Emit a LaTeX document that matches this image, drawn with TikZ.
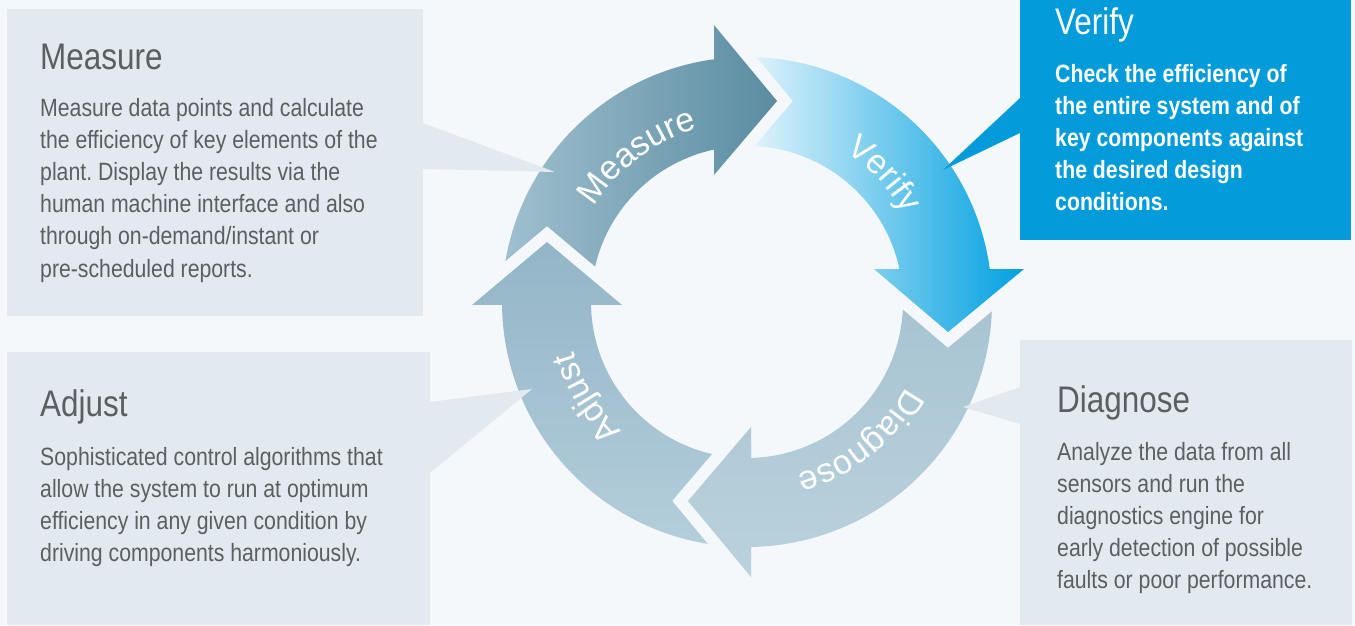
\documentclass[tikz,border=0pt]{standalone}
\usepackage{fontspec}
\setmainfont{Liberation Sans}
\newfontfamily\boxfont[FakeStretch=0.85]{Liberation Sans}
\newfontfamily\ringfont{Liberation Sans}
\usetikzlibrary{decorations.text}
\frenchspacing
\definecolor{bgc}{HTML}{F4F8FA}
\definecolor{boxc}{HTML}{E2EAF0}
\definecolor{txtc}{HTML}{5A5F63}
\definecolor{vblue}{HTML}{039BDA}
\definecolor{mL}{HTML}{A0C0CF}
\definecolor{mR}{HTML}{5A8CA1}
\definecolor{vL}{HTML}{F6FBFE}
\definecolor{vM}{HTML}{8EC7ED}
\definecolor{vR}{HTML}{00A0E0}
\definecolor{dT}{HTML}{A6C2D1}
\definecolor{dB}{HTML}{BAD2DD}
\definecolor{aT}{HTML}{93B5C7}
\definecolor{aB}{HTML}{B4CEDB}
\newcommand\ringtxt{\ringfont\fontsize{34}{40}\selectfont}
\def\pM{(177:245pt) arc[start angle=177,end angle=97.74,radius=245pt] -- (-33,277) -- (30,201) -- (-33,127) -- (102.21:156pt) arc[start angle=102.21,end angle=177,radius=156pt] -- cycle}
\def\pV{(95:245pt) arc[start angle=95,end angle=7.74,radius=245pt] -- (277,33) -- (201,-30) -- (127,33) -- (12.21:156pt) arc[start angle=12.21,end angle=95,radius=156pt] -- cycle}
\def\pD{(5:245pt) arc[start angle=5,end angle=-89.06,radius=245pt] -- (4,-275) -- (-59,-199) -- (4,-125) -- (-88.53:156pt) arc[start angle=-88.53,end angle=5,radius=156pt] -- cycle}
\def\pA{(-93:245pt) arc[start angle=-93,end angle=-179.3,radius=245pt] -- (-275,-3) -- (-200,60) -- (-125,-3) -- (-178.9:156pt) arc[start angle=-178.9,end angle=-93,radius=156pt] -- cycle}
\def\hM{(-33,277) -- (30,201) -- (-33,127)}
\def\hV{(277,33) -- (201,-30) -- (127,33)}
\def\hD{(4,-275) -- (-59,-199) -- (4,-125)}
\def\hA{(-275,-3) -- (-200,60) -- (-125,-3)}
\tikzset{
  lbox/.style={fill=boxc, draw=none, inner sep=0pt, anchor=north west},
  bluebox/.style={fill=vblue, draw=none, inner sep=0pt, anchor=north west},
  ttl/.style={font=\boxfont\fontsize{37}{44}\selectfont, text=txtc, anchor=base west, inner sep=0pt},
  bdy/.style={font=\boxfont\fontsize{25}{32}\selectfont, text=txtc, anchor=base west, inner sep=0pt},
  wttl/.style={ttl, text=white},
  wbdy/.style={bdy, text=white, font=\boxfont\bfseries\fontsize{25}{32}\selectfont},
  gapline/.style={draw=bgc, line width=24pt, line join=miter},
  mshade/.style={left color=mL, right color=mR},
  vshade/.style={left color=vL, middle color=vM, right color=vR},
  dshade/.style={top color=dT, bottom color=dB},
  ashade/.style={top color=aT, bottom color=aB},
  ringlabel/.style={decorate, decoration={text along path, text align=center, text color=white, text={|\ringtxt|#1}}}
}
\begin{document}
\begin{tikzpicture}[x=1pt,y=1pt]
\useasboundingbox (0,0) rectangle (1355,625);
\fill[bgc] (0,0) rectangle (1355,625);

% boxes
\node[lbox, minimum width=416pt, minimum height=307pt] (mbox) at (7,616) {};
\node[lbox, minimum width=423pt, minimum height=273pt] (abox) at (7,273) {};
\node[bluebox, minimum width=331pt, minimum height=240pt] (vbox) at (1020,625) {};
\node[lbox, minimum width=332pt, minimum height=285pt] (dbox) at (1020,285) {};

% ring
\begin{scope}[shift={(747,323)}]
  \shade[mshade] \pM;
  \shade[vshade] \pV;
  \shade[dshade] \pD;
  \shade[ashade] \pA;
  \draw[gapline] \hM;
  \begin{scope}\clip \hM -- cycle; \shade[mshade] \pM; \end{scope}
  \draw[gapline] \hV;
  \begin{scope}\clip \hV -- cycle; \shade[vshade] \pV; \end{scope}
  \draw[gapline] \hD;
  \begin{scope}\clip \hD -- cycle; \shade[dshade] \pD; \end{scope}
  \draw[gapline] \hA;
  \begin{scope}\clip \hA -- cycle; \shade[ashade] \pA; \end{scope}
  \path[ringlabel=Measure] (162:180pt) arc[start angle=162,end angle=92,radius=180pt];
  \path[ringlabel=Verify] (78:180pt) arc[start angle=78,end angle=8,radius=180pt];
  \path[ringlabel=Diagnose] (-16:180pt) arc[start angle=-16,end angle=-86,radius=180pt];
  \path[ringlabel=Adjust] (246:180pt) arc[start angle=246,end angle=176,radius=180pt];
\end{scope}

% pointers
\fill[boxc] (423,502) -- (555,453) -- (423,456) -- cycle;
\fill[boxc] (430,223) -- (532,236) -- (430,152) -- cycle;
\fill[vblue] (1020,527) -- (943,455) -- (1020,492) -- cycle;
\fill[boxc] (1020,238) -- (963,218) -- (1020,201) -- cycle;

% texts
\node[ttl] (mt) at (40,555) {Measure};
\foreach \t [count=\i] in {{Measure data points and calculate},{the efficiency of key elements of the},{plant. Display the results via the},{human machine interface and also},{through on-demand/instant or},{pre-scheduled reports.}}
  \node[bdy] (m\i) at (40,540-32*\i) {\t};

\node[ttl] (at) at (40,209) {Adjust};
\foreach \t [count=\i] in {{Sophisticated control algorithms that},{allow the system to run at optimum},{efficiency in any given condition by},{driving components harmoniously.}}
  \node[bdy] (a\i) at (40,192-32*\i) {\t};

\node[wttl] (vt) at (1055,590) {Verify};
\foreach \t [count=\i] in {{Check the efficiency of},{the entire system and of},{key components against},{the desired design},{conditions.}}
  \node[wbdy] (v\i) at (1055,574-32*\i) {\t};

\node[ttl] (dt) at (1057,213) {Diagnose};
\foreach \t [count=\i] in {{Analyze the data from all},{sensors and run the},{diagnostics engine for},{early detection of possible},{faults or poor performance.}}
  \node[bdy] (d\i) at (1057,197-32*\i) {\t};
\end{tikzpicture}
\end{document}
